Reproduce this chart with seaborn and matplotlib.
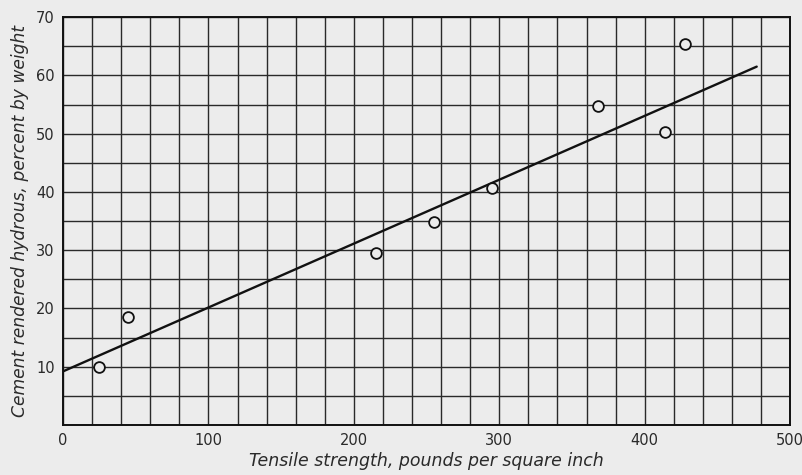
import numpy as np
import pandas as pd
import matplotlib
matplotlib.use("Agg")
import matplotlib.pyplot as plt
import seaborn as sns

# Data
tensile_strength = [25, 45, 215, 255, 295, 368, 414, 428]
cement_hydrous = [9.9, 18.6, 29.6, 34.8, 40.6, 54.8, 50.3, 65.4]

fit_x = [0, 477]
fit_y = [9.2, 61.5]

x_ticks = [0, 100, 200, 300, 400, 500]
y_ticks = [10, 20, 30, 40, 50, 60, 70]

sns.set_theme(style="white")
plt.rcParams['font.family'] = ['DejaVu Sans']

bg = "#ececec"
fig = plt.figure(figsize=(8.03, 4.75), dpi=100, facecolor=bg)
ax = fig.add_axes([0.0785, 0.1053, 0.9055, 0.8587])
ax.set_facecolor(bg)

pts = pd.DataFrame({"x": tensile_strength, "y": cement_hydrous})
line = pd.DataFrame({"x": fit_x, "y": fit_y})

ax.set_xlim(0, 500)
ax.set_ylim(0, 70)
ax.set_xticks(np.arange(0, 501, 20), minor=False)
ax.set_yticks(np.arange(0, 71, 5))
ax.grid(True, color="#2a2a2a", linewidth=1.0)
ax.set_axisbelow(True)

sns.lineplot(data=line, x="x", y="y", ax=ax, color="#111111", linewidth=1.7)
sns.scatterplot(data=pts, x="x", y="y", ax=ax, marker="o", s=60,
                facecolor=bg, edgecolor="#111111", linewidth=1.3, zorder=5)

ax.set_xticklabels([str(v) if v in x_ticks else "" for v in np.arange(0, 501, 20)],
                   fontsize=10.5, color="#2a2a2a")
ax.set_yticklabels([str(v) if v in y_ticks else "" for v in np.arange(0, 71, 5)],
                   fontsize=10.5, color="#2a2a2a")
ax.tick_params(axis="both", length=0, pad=6)

for s in ax.spines.values():
    s.set_color("#111111")
    s.set_linewidth(1.4)

ax.set_xlabel("Tensile strength, pounds per square inch", fontsize=12.5,
              style="italic", color="#2a2a2a", labelpad=3)
ax.set_ylabel("Cement rendered hydrous, percent by weight", fontsize=12.3,
              style="italic", color="#2a2a2a", labelpad=5)

fig.savefig("out.png", dpi=100, facecolor=bg)
